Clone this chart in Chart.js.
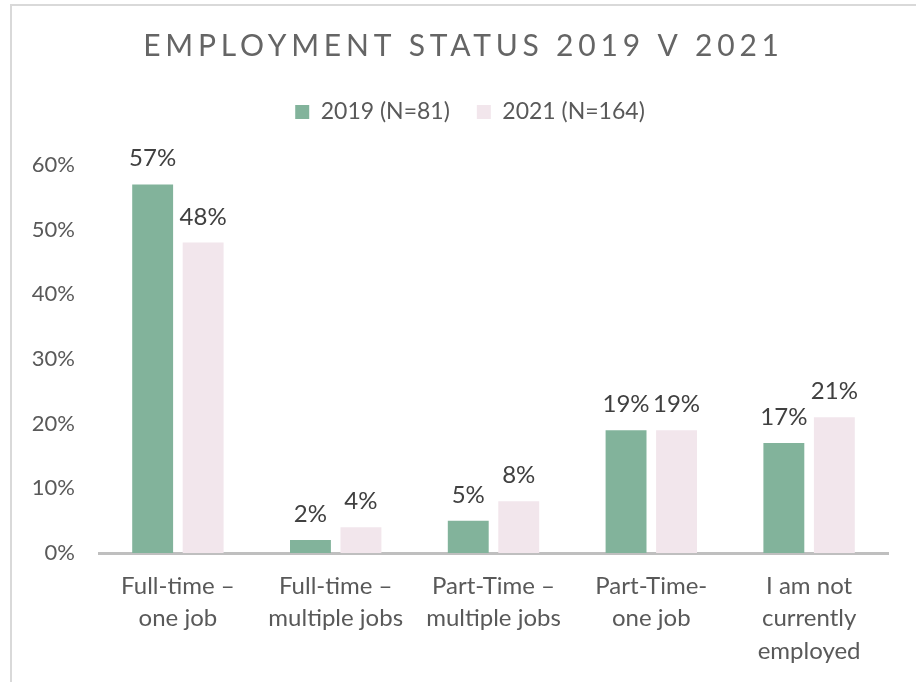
<!DOCTYPE html>
<html>
<head>
<meta charset="utf-8">
<title>Employment status 2019 v 2021</title>
<script src="https://cdn.jsdelivr.net/npm/chart.js@4"></script>
<style>
    html, body { margin: 0; padding: 0; background: #ffffff; overflow: hidden; }
    #wrap { position: relative; width: 916px; height: 682px; }
    #frame {
        position: absolute; left: 10px; top: 4px; width: 1000px; height: 1000px;
        border: 2px solid #d9d9d9; box-sizing: border-box; pointer-events: none;
    }
    #employmentChart { position: absolute; left: 0; top: 0; }
</style>
</head>
<body>
<div id="wrap">
    <div id="frame"></div>
    <canvas id="employmentChart" width="916" height="682"></canvas>
</div>
<script>
const categories = [
    ['Full-time –', 'one job'],
    ['Full-time –', 'multiple jobs'],
    ['Part-Time –', 'multiple jobs'],
    ['Part-Time-', 'one job'],
    ['I am not', 'currently', 'employed']
];
const seriesNames = ['2019 (N=81)', '2021 (N=164)'];
const values2019 = [57, 2, 5, 19, 17];
const values2021 = [48, 4, 8, 19, 21];
const yTicks = [0, 10, 20, 30, 40, 50, 60];

const textColor = '#595959';
const fontFamily = 'Lato, "Open Sans", sans-serif';

// wrap a layout block's draw so it can be nudged sideways and letter-spaced
function tweakBlock(chart, block, shift, spacing) {
    if (!block || block._tweaked) return;
    const draw = block.draw;
    block.draw = function() {
        const c = chart.ctx;
        c.save();
        c.translate(shift, 0);
        if (spacing) c.letterSpacing = spacing + 'px';
        draw.apply(this, arguments);
        c.restore();
    };
    block._tweaked = true;
}

const blockTweaks = {
    id: 'blockTweaks',
    beforeDraw(chart, args, opts) {
        tweakBlock(chart, chart.titleBlock, opts.titleShift, opts.titleSpacing);
        tweakBlock(chart, chart.legend, opts.legendShift, 0);
    }
};

// extra room under the legend before the plot starts
const legendGap = {
    id: 'legendGap',
    beforeUpdate(chart, args, opts) {
        const legend = chart.legend;
        if (legend && !legend._gapped) {
            const fit = legend.fit;
            legend.fit = function() {
                fit.apply(this, arguments);
                this.height += opts.gap;
            };
            legend._gapped = true;
        }
    }
};

// percentage labels above each bar
const barValues = {
    id: 'barValues',
    afterDatasetsDraw(chart, args, opts) {
        const ctx = chart.ctx;
        ctx.save();
        ctx.font = opts.size + 'px ' + fontFamily;
        ctx.fillStyle = opts.color;
        ctx.textAlign = 'center';
        ctx.textBaseline = 'alphabetic';
        chart.data.datasets.forEach((ds, i) => {
            chart.getDatasetMeta(i).data.forEach((bar, j) => {
                ctx.fillText(ds.data[j] + '%', bar.x, bar.y - opts.offset);
            });
        });
        ctx.restore();
    }
};

const ctx = document.getElementById('employmentChart');
new Chart(ctx, {
    type: 'bar',
    data: {
        labels: categories,
        datasets: [
            {
                label: seriesNames[0],
                data: values2019,
                backgroundColor: '#82b39b',
                categoryPercentage: 0.64,
                barPercentage: 0.81
            },
            {
                label: seriesNames[1],
                data: values2021,
                backgroundColor: '#f2e6ec',
                categoryPercentage: 0.64,
                barPercentage: 0.81
            }
        ]
    },
    options: {
        responsive: false,
        animation: false,
        layout: {
            padding: { top: 0, right: 28, bottom: 0, left: 0 }
        },
        plugins: {
            title: {
                display: true,
                text: 'EMPLOYMENT STATUS 2019 V 2021',
                color: '#656565',
                font: { family: fontFamily, size: 30, weight: '400', lineHeight: 1.2 },
                padding: { top: 28.5, bottom: 9 }
            },
            legend: {
                position: 'top',
                labels: {
                    color: textColor,
                    boxWidth: 14,
                    boxHeight: 14,
                    padding: 27,
                    font: { family: fontFamily, size: 23 }
                }
            },
            blockTweaks: { titleShift: 19.5, titleSpacing: 4.8, legendShift: 26 },
            legendGap: { gap: 31.5 },
            barValues: { size: 24, color: '#404040', offset: 18 },
            tooltip: { enabled: false }
        },
        scales: {
            x: {
                grid: { display: false, drawTicks: false },
                border: { display: true, color: '#bfbfbf', width: 3 },
                ticks: {
                    color: textColor,
                    padding: 17,
                    maxRotation: 0,
                    autoSkip: false,
                    font: { family: fontFamily, size: 24, lineHeight: 1.354 }
                },
                afterFit(scale) { scale.height = 129; }
            },
            y: {
                min: 0,
                max: 60,
                grid: { display: false, drawTicks: false },
                border: { display: false },
                afterBuildTicks(scale) {
                    scale.ticks = yTicks.map(v => ({ value: v }));
                },
                ticks: {
                    color: textColor,
                    padding: 24,
                    font: { family: fontFamily, size: 22 },
                    callback: v => v + '%'
                },
                afterFit(scale) { scale.width = 99; }
            }
        }
    },
    plugins: [blockTweaks, legendGap, barValues]
});
</script>
</body>
</html>
